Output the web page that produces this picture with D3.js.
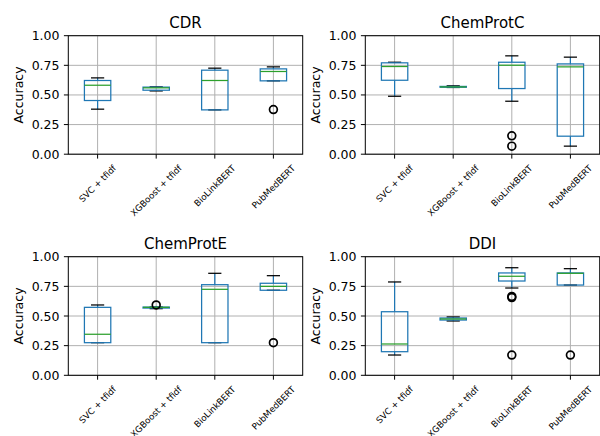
<!DOCTYPE html>
<html><head><meta charset="utf-8">
<script src="https://cdn.jsdelivr.net/npm/d3@7"></script>
<style>body{margin:0;background:#fff}svg{display:block}text{font-family:"DejaVu Sans",sans-serif}</style>
</head><body><svg id="c" width="600" height="436"></svg>
<script>
const models = ["SVC + tfidf", "XGBoost + tfidf", "BioLinkBERT", "PubMedBERT"];
const datasets = ["CDR", "ChemProtC", "ChemProtE", "DDI"];
const yTicks = [0, 0.25, 0.5, 0.75, 1.0];
// per model: [whiskerLow, q1, median, q3, whiskerHigh]
const statsCDR = [[0.380,0.453,0.582,0.622,0.644],[0.534,0.540,0.560,0.566,0.568],[0.374,0.374,0.622,0.709,0.726],[0.619,0.619,0.698,0.720,0.737]];
const fliersCDR = [[],[],[],[0.377]];
const statsChemProtC = [[0.489,0.624,0.740,0.771,0.776],[0.563,0.565,0.568,0.572,0.577],[0.447,0.554,0.751,0.776,0.830],[0.068,0.152,0.737,0.762,0.819]];
const fliersChemProtC = [[],[],[0.155,0.068],[]];
const statsChemProtE = [[0.275,0.275,0.346,0.573,0.593],[0.562,0.567,0.573,0.575,0.576],[0.275,0.275,0.725,0.764,0.860],[0.717,0.717,0.750,0.776,0.840]];
const fliersChemProtE = [[],[0.593],[],[0.275]];
const statsDDI = [[0.171,0.199,0.264,0.536,0.787],[0.458,0.466,0.475,0.483,0.492],[0.736,0.795,0.835,0.863,0.907],[0.761,0.761,0.860,0.863,0.899]];
const fliersDDI = [[],[],[0.665,0.655,0.171],[0.171]];

const allStats = [statsCDR, statsChemProtC, statsChemProtE, statsDDI];
const allFliers = [fliersCDR, fliersChemProtC, fliersChemProtE, fliersDDI];

const panels = [
  {x0:68.3, x1:302.7, y0:35.7, y1:154.2},
  {x0:365.3, x1:599.7, y0:35.7, y1:154.2},
  {x0:68.3, x1:302.7, y0:256.7, y1:375.3},
  {x0:365.3, x1:599.7, y0:256.7, y1:375.3}
];
const svg = d3.select("#c");
const C0 = "#1f77b4", C2 = "#2ca02c";

panels.forEach((p, i) => {
  const x = d3.scaleLinear().domain([0.5, 4.5]).range([p.x0, p.x1]);
  const y = d3.scaleLinear().domain([0, 1]).range([p.y1, p.y0]);
  const g = svg.append("g");
  const step = x(2) - x(1);
  const bw = 0.45 * step, cw = bw / 2;
  // grid
  g.selectAll(".gx").data(models).join("line")
    .attr("x1", (d, j) => x(j + 1)).attr("x2", (d, j) => x(j + 1))
    .attr("y1", p.y0).attr("y2", p.y1).attr("stroke", "#b0b0b0").attr("stroke-width", 1);
  g.selectAll(".gy").data(yTicks).join("line")
    .attr("x1", p.x0).attr("x2", p.x1).attr("y1", d => y(d)).attr("y2", d => y(d))
    .attr("stroke", "#b0b0b0").attr("stroke-width", 1);
  const st = allStats[i], fl = allFliers[i];
  st.forEach((s, j) => {
    const cx = x(j + 1);
    const bg = g.append("g").attr("fill", "none");
    bg.append("line").attr("x1", cx).attr("x2", cx).attr("y1", y(s[0])).attr("y2", y(s[1])).attr("stroke", C0).attr("stroke-width", 1.25);
    bg.append("line").attr("x1", cx).attr("x2", cx).attr("y1", y(s[3])).attr("y2", y(s[4])).attr("stroke", C0).attr("stroke-width", 1.25);
    [s[0], s[4]].forEach(v => bg.append("line").attr("x1", cx - cw/2).attr("x2", cx + cw/2).attr("y1", y(v)).attr("y2", y(v)).attr("stroke", "#000").attr("stroke-width", 1.25));
    bg.append("rect").attr("x", cx - bw/2).attr("width", bw).attr("y", y(s[3])).attr("height", Math.max(0.01, y(s[1]) - y(s[3])))
      .attr("stroke", C0).attr("stroke-width", 1.25);
    bg.append("line").attr("x1", cx - bw/2).attr("x2", cx + bw/2).attr("y1", y(s[2])).attr("y2", y(s[2])).attr("stroke", C2).attr("stroke-width", 1.25);
    fl[j].forEach(v => bg.append("circle").attr("cx", cx).attr("cy", y(v)).attr("r", 3.9).attr("stroke", "#000").attr("stroke-width", 1.7));
  });
  // spines
  g.append("rect").attr("x", p.x0).attr("y", p.y0).attr("width", p.x1 - p.x0).attr("height", p.y1 - p.y0)
    .attr("fill", "none").attr("stroke", "#000").attr("stroke-width", 1);
  // y ticks
  yTicks.forEach(t => {
    g.append("line").attr("x1", p.x0 - 4.4).attr("x2", p.x0).attr("y1", y(t)).attr("y2", y(t)).attr("stroke", "#000");
    g.append("text").attr("x", p.x0 - 8.8).attr("y", y(t)).attr("dy", "0.36em").attr("text-anchor", "end")
      .attr("font-size", 12.5).text(d3.format(".2f")(t));
  });
  // x ticks
  models.forEach((m, j) => {
    const cx = x(j + 1);
    g.append("line").attr("x1", cx).attr("x2", cx).attr("y1", p.y1).attr("y2", p.y1 + 4.4).attr("stroke", "#000");
    const fs = 8.75;
    const t = g.append("text").attr("font-size", fs).attr("text-anchor", "middle").text(m);
    const w = t.node().getComputedTextLength();
    const h = fs * 1.16;
    const half = (w + h) / Math.SQRT2 / 2;
    const cy = p.y1 + 8.8 + half;
    t.attr("transform", `translate(${cx},${cy}) rotate(-45)`).attr("dy", "0.35em");
  });
  // title
  g.append("text").attr("x", (p.x0 + p.x1) / 2).attr("y", p.y0 - 8).attr("text-anchor", "middle")
    .attr("font-size", 15).text(datasets[i]);
  // y label
  const lx = p.x0 - 50;
  g.append("text").attr("transform", `translate(${lx + 4.5},${(p.y0 + p.y1) / 2}) rotate(-90)`)
    .attr("text-anchor", "middle").attr("font-size", 12.5).text("Accuracy");
});
</script></body></html>
